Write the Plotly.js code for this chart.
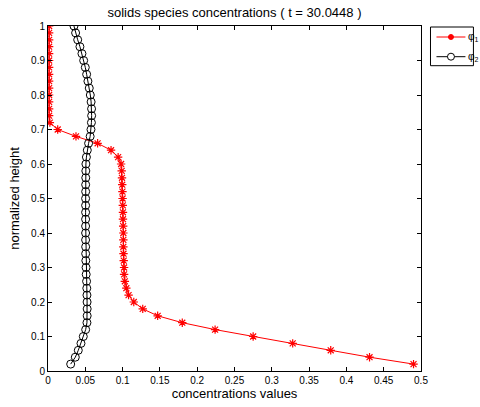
<!DOCTYPE html>
<html><head><meta charset="utf-8">
<script src="https://cdn.plot.ly/plotly-3.0.1.min.js"></script>
<style>html,body{margin:0;padding:0;background:#fff}#chart{width:480px;height:407px}</style>
</head><body><div id="chart"></div>
<script>
var heights = [0.02,0.04,0.06,0.08,0.10,0.12,0.14,0.16,0.18,0.20,
  0.22,0.24,0.26,0.28,0.30,0.32,0.34,0.36,0.38,0.40,
  0.42,0.44,0.46,0.48,0.50,0.52,0.54,0.56,0.58,0.60,
  0.62,0.64,0.66,0.68,0.70,0.72,0.74,0.76,0.78,0.80,
  0.82,0.84,0.86,0.88,0.90,0.92,0.94,0.96,0.98,1.00];
var phi1 = [0.490,0.431,0.379,0.328,0.275,0.224,0.180,0.147,0.127,0.115,
  0.108,0.105,0.103,0.102,0.102,0.1015,0.1012,0.101,0.101,0.101,
  0.1008,0.1005,0.1005,0.1003,0.100,0.0998,0.0995,0.0992,0.0988,0.098,
  0.094,0.0845,0.0665,0.0375,0.013,0.0025,0.0015,0.0015,0.0015,0.0015,
  0.0015,0.0015,0.0015,0.0015,0.0015,0.0015,0.0015,0.0015,0.0015,0.0015];
var phi2 = [0.0304,0.0366,0.0406,0.0442,0.0473,0.0505,0.0522,0.0525,0.0525,0.0524,
  0.0522,0.052,0.0517,0.0512,0.051,0.0507,0.0505,0.0505,0.0504,0.0504,
  0.0504,0.0504,0.0504,0.0504,0.0504,0.0505,0.0505,0.0506,0.0507,0.0508,
  0.0515,0.0527,0.0544,0.0565,0.0576,0.0582,0.0585,0.0584,0.0578,0.0567,
  0.0553,0.0535,0.0518,0.050,0.0478,0.0455,0.0428,0.0398,0.037,0.0348];
var seriesNames = ['φ<sub>1</sub>','φ<sub>2</sub>'];
var seriesColors = ['#ff0000','#000000'];
var xTicks = [0,0.05,0.1,0.15,0.2,0.25,0.3,0.35,0.4,0.45,0.5];
var xTickText = ['0','0.05','0.1','0.15','0.2','0.25','0.3','0.35','0.4','0.45','0.5'];
var yTicks = [0,0.1,0.2,0.3,0.4,0.5,0.6,0.7,0.8,0.9,1];
var yTickText = ['0','0.1','0.2','0.3','0.4','0.5','0.6','0.7','0.8','0.9','1'];

var F = 'Liberation Sans, Arial, Helvetica, sans-serif';
var traces = [
  {x: phi1, y: heights, name: seriesNames[0], mode: 'lines+markers', type: 'scatter',
   line: {color: seriesColors[0], width: 1},
   marker: {symbol: 'asterisk-open', size: 7, color: seriesColors[0], line: {color: seriesColors[0], width: 1.2}}},
  {x: phi2, y: heights, name: seriesNames[1], mode: 'lines+markers', type: 'scatter',
   line: {color: seriesColors[1], width: 1},
   marker: {symbol: 'circle-open', size: 8, color: seriesColors[1], line: {color: seriesColors[1], width: 1}}}
];

// legend box (MATLAB-style), built in paper coordinates
var L = {l: 48, t: 26, w: 373.5, h: 345};
function px2x(p) { return (p - L.l) / L.w; }
function py2y(p) { return (L.t + L.h - p) / L.h; }
var rowsY = [37, 56.7];
var shapes = [
  {type: 'rect', xref: 'paper', yref: 'paper', x0: px2x(431), x1: px2x(474), y0: py2y(65.7), y1: py2y(27),
   line: {color: '#000', width: 1}, fillcolor: 'rgba(0,0,0,0)', layer: 'below'}
];
var annotations = [];
for (var i = 0; i < 2; i++) {
  var yy = py2y(rowsY[i]);
  shapes.push({type: 'line', xref: 'paper', yref: 'paper', x0: px2x(437), x1: px2x(466), y0: yy, y1: yy,
    line: {color: seriesColors[i], width: 1}, layer: 'below'});
  shapes.push({type: 'circle', xref: 'paper', yref: 'paper', xsizemode: 'pixel', ysizemode: 'pixel',
    xanchor: px2x(451.5), yanchor: yy, x0: i === 0 ? -2.5 : -3.5, x1: i === 0 ? 2.5 : 3.5,
    y0: i === 0 ? -2.5 : -3.5, y1: i === 0 ? 2.5 : 3.5,
    line: {color: seriesColors[i], width: 1}, fillcolor: i === 0 ? seriesColors[i] : '#fff', layer: 'below'});
  annotations.push({xref: 'paper', yref: 'paper', x: px2x(468), y: yy, xanchor: 'left', yanchor: 'middle',
    text: seriesNames[i], showarrow: false, font: {family: F, size: 10, color: '#000'},
    borderpad: 0, bgcolor: 'rgba(0,0,0,0)'});
}

var axisCommon = {showline: true, linecolor: '#000', linewidth: 1, mirror: 'allticks',
  ticks: 'inside', ticklen: 4, tickcolor: '#000', showgrid: false, zeroline: false,
  tickfont: {family: F, size: 10, color: '#000'}};
var layout = {
  width: 480, height: 407,
  margin: {l: 48, r: 58.5, t: 26, b: 36, autoexpand: false},
  paper_bgcolor: '#fff', plot_bgcolor: '#fff',
  title: {text: 'solids species concentrations ( t = 30.0448 )', font: {family: F, size: 13, color: '#000'},
    x: 0.5, xref: 'paper', y: 1 - 12/407, yref: 'container', yanchor: 'middle'},
  xaxis: Object.assign({}, axisCommon, {range: [0, 0.5], tickvals: xTicks, ticktext: xTickText,
    title: {text: 'concentrations values', font: {family: F, size: 13, color: '#000'}, standoff: 2}}),
  yaxis: Object.assign({}, axisCommon, {range: [0, 1], tickvals: yTicks, ticktext: yTickText,
    title: {text: 'normalized height', font: {family: F, size: 13, color: '#000'}, standoff: 8}}),
  showlegend: false,
  shapes: shapes,
  annotations: annotations
};
Plotly.newPlot('chart', traces, layout, {displayModeBar: false, staticPlot: true});
</script></body></html>
